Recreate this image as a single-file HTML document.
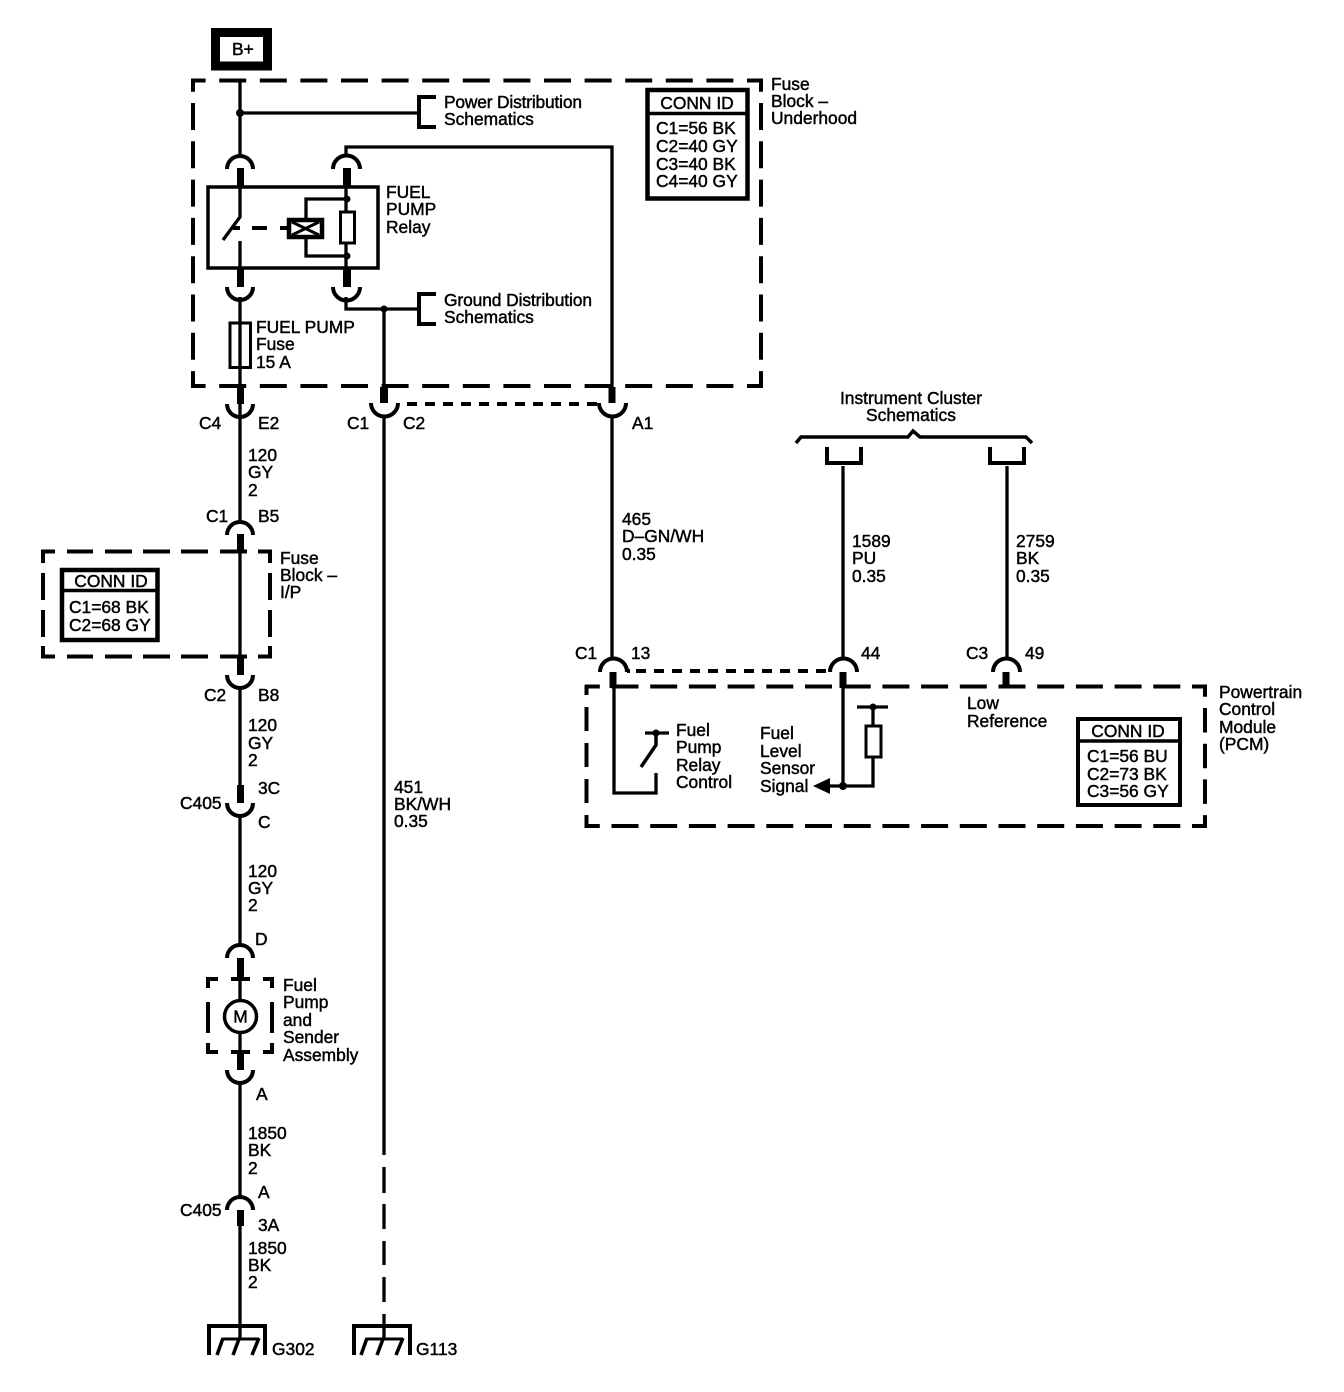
<!DOCTYPE html>
<html><head><meta charset="utf-8"><style>
html,body{margin:0;padding:0;background:#fff}
svg{display:block}
text{font-family:"Liberation Sans",sans-serif;font-size:17.4px;fill:#000;stroke:#000;stroke-width:.45}
.w{fill:none;stroke:#000;stroke-width:3.3}
.t{fill:none;stroke:#000;stroke-width:7}
.a{fill:none;stroke:#000;stroke-width:4}
.b{fill:none;stroke:#000;stroke-width:4}
.f{fill:none;stroke:#000;stroke-width:4;stroke-dasharray:10 8}
</style></head><body>
<svg width="1344" height="1392" viewBox="0 0 1344 1392" xmlns="http://www.w3.org/2000/svg">
<rect width="1344" height="1392" fill="#fff"/>
<!-- B+ -->
<rect x="215.500" y="32.500" width="52" height="33.500" fill="none" stroke="#000" stroke-width="9"/>
<text x="232" y="55">B+</text>
<!-- Underhood dashed box -->
<path class="b" stroke-dasharray="27 13.600" stroke-dashoffset="12.400" d="M191 80.500H763"/>
<path class="b" stroke-dasharray="27 13.600" stroke-dashoffset="12.400" d="M191 386H763"/>
<path class="b" stroke-dasharray="27 11.300" stroke-dashoffset="14.300" d="M193 79V388"/>
<path class="b" stroke-dasharray="27 11.300" stroke-dashoffset="14.300" d="M761 79V388"/>
<!-- main left wire -->
<path class="w" d="M240 80V157M240 113H418M240 297V522M240 186V217L223 240M240 241V268"/>
<circle cx="240" cy="113" r="4"/>
<path class="b" d="M436 97H419V127H436M436 294H419V324H436"/>
<path class="a" d="M227 169A13 13 0 0 1 253 169M333 169A13.500 13.500 0 0 1 360 169M227 287A13 13 0 0 0 253 287M333 287A13.500 13.500 0 0 0 360 287"/>
<path class="t" stroke-width="6.500" d="M240.500 168V186M240.500 268V287"/>
<path class="t" style="stroke-width:8" d="M347 168V186M347 268V287"/>
<!-- relay -->
<rect x="208" y="187" width="170" height="81" fill="none" stroke="#000" stroke-width="3.500"/>
<path class="w" d="M346 156V147H612V387M346 186V269M306 218V199H346M306 238V256H346M346 297V309H418"/>
<path d="M233 228H240M252 228H267M280 228H288" fill="none" stroke="#000" stroke-width="4"/>
<rect x="289" y="220" width="33" height="17" fill="#fff" stroke="#000" stroke-width="4.500"/>
<path d="M292 222L319 235M292 235L319 222" fill="none" stroke="#000" stroke-width="3"/>
<rect x="340.500" y="212" width="14" height="31" fill="#fff" stroke="#000" stroke-width="3"/>
<circle cx="347" cy="199" r="3.500"/><circle cx="347" cy="256" r="3.500"/><circle cx="384" cy="309" r="3.500"/>
<text x="386" y="198">FUEL</text><text x="386" y="215">PUMP</text><text x="386" y="233">Relay</text>
<text x="444" y="108" textLength="138" lengthAdjust="spacing">Power Distribution</text><text x="444" y="125">Schematics</text>
<text x="444" y="306" textLength="148" lengthAdjust="spacing">Ground Distribution</text><text x="444" y="323">Schematics</text>
<text x="771" y="90">Fuse</text><text x="771" y="107">Block –</text><text x="771" y="124">Underhood</text>
<!-- conn id underhood -->
<rect x="647.500" y="90" width="100" height="108.500" fill="#fff" stroke="#000" stroke-width="4.500"/>
<path d="M648 113.500H748" stroke="#000" stroke-width="3.500"/>
<text x="697" y="109" text-anchor="middle">CONN ID</text>
<text x="656" y="134">C1=56 BK</text><text x="656" y="152">C2=40 GY</text><text x="656" y="170">C3=40 BK</text><text x="656" y="187">C4=40 GY</text>
<!-- fuse -->
<rect x="230" y="323" width="20.500" height="44.500" fill="none" stroke="#000" stroke-width="3"/>
<text x="256" y="333">FUEL PUMP</text><text x="256" y="350">Fuse</text><text x="256" y="368">15 A</text>
<!-- stubs at C4 etc -->
<path class="t" d="M240.500 387V404M612 387V403"/>
<path class="t" style="stroke-width:8" d="M384 387V403"/>
<path class="a" d="M227 404A13 13 0 0 0 253 404M371 403A13.500 13.500 0 0 0 398 403M599 403A13.500 13.500 0 0 0 626 403"/>
<path class="w" stroke-width="4" d="M384 309V387"/>
<path class="f" d="M407 404H600"/>
<path class="w" d="M384 415V1155M384 1167V1193M384 1204V1229M384 1241V1265M384 1277V1302M384 1314V1325"/>
<text x="199" y="429">C4</text><text x="258" y="429">E2</text>
<text x="347" y="429">C1</text><text x="403" y="429">C2</text><text x="632" y="429">A1</text>
<text x="248" y="461">120</text><text x="248" y="478">GY</text><text x="248" y="496">2</text>
<text x="206" y="522">C1</text><text x="258" y="522">B5</text>
<!-- C1/B5 -->
<path class="a" d="M227 535A13 13 0 0 1 253 535"/>
<path class="t" d="M240.500 534V552M240.500 658V675"/>
<path class="a" d="M227 675A13 13 0 0 0 253 675"/>
<path class="w" d="M240 552V658M240 688V785"/>
<!-- I/P dashed box -->
<path class="b" d="M55 551.500H43V563M67 551.500H93M105 551.500H132M143 551.500H170M181 551.500H208M220 551.500H247M258 551.500H270V563M43 573V600M43 610V637M43 646V656.500H55M67 656.500H93M105 656.500H132M143 656.500H170M181 656.500H208M220 656.500H247M258 656.500H270V646M270 573V600M270 610V637"/>
<rect x="62" y="570" width="95.500" height="70" fill="#fff" stroke="#000" stroke-width="4.500"/>
<path d="M62 590.500H158" stroke="#000" stroke-width="3.500"/>
<text x="111" y="587" text-anchor="middle">CONN ID</text>
<text x="69" y="613">C1=68 BK</text><text x="69" y="631">C2=68 GY</text>
<text x="280" y="564">Fuse</text><text x="280" y="581">Block –</text><text x="280" y="598">I/P</text>
<text x="204" y="701">C2</text><text x="258" y="701">B8</text>
<text x="248" y="731">120</text><text x="248" y="749">GY</text><text x="248" y="766">2</text>
<!-- C405 upper -->
<path class="t" d="M240.500 785V803"/>
<path class="a" d="M227 803A13 13 0 0 0 253 803"/>
<path class="w" d="M240 815V945"/>
<text x="180" y="809">C405</text><text x="258" y="794">3C</text><text x="258" y="828">C</text>
<text x="248" y="877">120</text><text x="248" y="894">GY</text><text x="248" y="911">2</text>
<text x="255" y="945">D</text>
<!-- pump -->
<path class="a" d="M227 958A13 13 0 0 1 253 958"/>
<path class="t" d="M240.500 958V978M240.500 1053V1070"/>
<path class="a" d="M227 1070A13 13 0 0 0 253 1070"/>
<path class="w" d="M240 978V1053M240 1082V1198"/>
<path d="M218 979H208V988M231 979H250M263 979H272V988M208 1002V1033M272 1002V1033M208 1043V1052H218M231 1052H250M263 1052H272V1043" fill="none" stroke="#000" stroke-width="4"/>
<circle cx="240.500" cy="1016.500" r="16" fill="#fff" stroke="#000" stroke-width="3.500"/>
<text x="240.500" y="1022.500" text-anchor="middle">M</text>
<text x="283" y="991">Fuel</text><text x="283" y="1008">Pump</text><text x="283" y="1026">and</text><text x="283" y="1043">Sender</text><text x="283" y="1061">Assembly</text>
<text x="256" y="1100">A</text>
<text x="248" y="1139">1850</text><text x="248" y="1156">BK</text><text x="248" y="1174">2</text>
<!-- C405 lower -->
<path class="a" d="M227 1210A13 13 0 0 1 253 1210"/>
<path class="t" d="M240.500 1210V1226"/>
<path class="w" d="M240 1226V1325"/>
<text x="180" y="1216">C405</text><text x="258" y="1198">A</text><text x="258" y="1231">3A</text>
<text x="248" y="1254">1850</text><text x="248" y="1271">BK</text><text x="248" y="1288">2</text>
<!-- grounds -->
<path d="M209 1355V1326H265V1355M354 1355V1326H410V1355" fill="none" stroke="#000" stroke-width="4"/>
<path class="w" d="M240 1325V1339M384 1325V1339"/>
<path d="M223 1339H259M367 1339H403" fill="none" stroke="#000" stroke-width="3"/>
<path d="M223 1338L217 1355M239 1339L233 1355M259 1338L252 1355M367 1338L361 1355M383 1339L377 1355M403 1338L396 1355" fill="none" stroke="#000" stroke-width="3.500"/>
<text x="272" y="1355">G302</text><text x="416" y="1355">G113</text>
<text x="394" y="793">451</text><text x="394" y="810">BK/WH</text><text x="394" y="827">0.35</text>
<!-- right wire -->
<path class="w" d="M612 416V659M843 466V659M1007 466V659"/>
<text x="622" y="525">465</text><text x="622" y="542">D–GN/WH</text><text x="622" y="560">0.35</text>
<text x="852" y="547">1589</text><text x="852" y="564">PU</text><text x="852" y="582">0.35</text>
<text x="1016" y="547">2759</text><text x="1016" y="564">BK</text><text x="1016" y="582">0.35</text>
<!-- instrument -->
<text x="911" y="404" text-anchor="middle">Instrument Cluster</text>
<text x="911" y="421" text-anchor="middle">Schematics</text>
<path d="M796 443L801 437H908L913 431L920 437H1026L1032 443" fill="none" stroke="#000" stroke-width="3.500"/>
<path d="M827 447V463H861V447M990 447V463H1024V447" fill="none" stroke="#000" stroke-width="4"/>
<!-- PCM connectors -->
<path class="a" d="M600 672A13.500 13.500 0 0 1 627 672M830 672A13.500 13.500 0 0 1 857 672M993 672A13.500 13.500 0 0 1 1020 672"/>
<path class="t" d="M613 672V688M843 672V688M1006 672V688"/>
<path class="f" stroke-width="3.500" d="M627 671H630M636 671H830"/>
<text x="575" y="659">C1</text><text x="631" y="659">13</text><text x="861" y="659">44</text><text x="966" y="659">C3</text><text x="1025" y="659">49</text>
<!-- PCM box -->
<path class="b" stroke-dasharray="27 11.700" stroke-dashoffset="12.200" d="M585 686.500H1207"/>
<path class="b" stroke-dasharray="27 11.700" stroke-dashoffset="12.200" d="M585 826H1207"/>
<path class="b" stroke-dasharray="24 12" stroke-dashoffset="14" d="M586.500 685V828"/>
<path class="b" stroke-dasharray="24.500 11.200" stroke-dashoffset="12.700" d="M1205 685V828"/>
<path class="w" d="M614 688V793H656V773"/>
<path class="w" d="M645 733H669"/>
<circle cx="656" cy="733" r="3.500"/>
<path d="M656 733V745L641 767" fill="none" stroke="#000" stroke-width="3.500"/>
<text x="676" y="736">Fuel</text><text x="676" y="753">Pump</text><text x="676" y="771">Relay</text><text x="676" y="788">Control</text>
<text x="760" y="739">Fuel</text><text x="760" y="757">Level</text><text x="760" y="774">Sensor</text><text x="760" y="792">Signal</text>
<path class="w" d="M843 688V786M830 786H873V757M873 725V707M857 707H888"/>
<polygon points="813,786 830,778 830,794"/>
<circle cx="843" cy="786" r="4"/><circle cx="873" cy="707" r="3.500"/>
<rect x="866" y="726" width="15" height="31" fill="#fff" stroke="#000" stroke-width="3"/>
<text x="967" y="709">Low</text><text x="967" y="727">Reference</text>
<rect x="1078" y="719" width="102" height="86" fill="#fff" stroke="#000" stroke-width="4"/>
<path d="M1078 741H1180" stroke="#000" stroke-width="3.500"/>
<text x="1128" y="737" text-anchor="middle">CONN ID</text>
<text x="1087" y="762">C1=56 BU</text><text x="1087" y="780">C2=73 BK</text><text x="1087" y="797">C3=56 GY</text>
<text x="1219" y="698">Powertrain</text><text x="1219" y="715">Control</text><text x="1219" y="733">Module</text><text x="1219" y="750">(PCM)</text>
</svg>
</body></html>
